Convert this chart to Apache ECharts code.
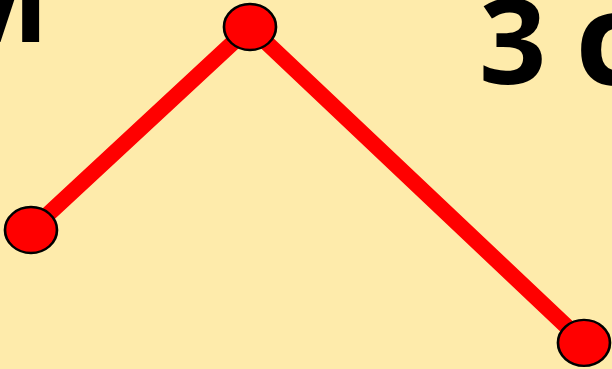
<!DOCTYPE html>
<html>
<head>
<meta charset="utf-8">
<script src="https://cdn.jsdelivr.net/npm/echarts@6/dist/echarts.min.js"></script>
<style>
  html, body { margin: 0; padding: 0; background: #feebab; }
  #chart { width: 612px; height: 369px; }
</style>
</head>
<body>
<div id="chart"></div>
<script>
var xValues = [0, 2, 5.05];
var yValues = [2.9, 4.7, 1.9];
var leftLabel = 'M';
var rightLabel = '3 c';

var rightParts = rightLabel.split(' ');

var chart = echarts.init(document.querySelector('#chart'), null, { renderer: 'canvas' });
var option;
option = {
    backgroundColor: '#feebab',
    animation: false,
    grid: {
        top: 0,
        left: 0,
        right: 0,
        bottom: 0
    },
    xAxis: {
        type: 'value',
        min: -0.283,
        max: 5.306,
        show: false
    },
    yAxis: {
        type: 'value',
        min: 1.668,
        max: 4.939,
        show: false
    },
    graphic: [
        {
            type: 'text',
            style: {
                text: leftLabel,
                x: 50,
                y: 8,
                align: 'right',
                verticalAlign: 'middle',
                font: 'bold 120px "Noto Sans"',
                fill: '#000'
            }
        },
        {
            type: 'text',
            style: {
                text: rightParts[0],
                x: 479,
                y: 50,
                align: 'left',
                verticalAlign: 'middle',
                font: 'bold 118px "Noto Sans"',
                fill: '#000'
            }
        },
        {
            type: 'text',
            style: {
                text: rightParts[1],
                x: 575,
                y: 48,
                align: 'left',
                verticalAlign: 'middle',
                font: 'bold 130px "Noto Sans"',
                fill: '#000'
            }
        }
    ],
    series: [
        {
            type: 'line',
            data: xValues.map(function (x, i) { return [x, yValues[i]]; }),
            symbol: 'circle',
            symbolSize: [52, 46],
            lineStyle: { color: '#ff0000', width: 16 },
            itemStyle: { color: '#ff0000', borderColor: '#000', borderWidth: 2.5 },
            z: 3
        }
    ]
};

if (option && typeof option === 'object') {
    chart.setOption(option);
}

window.addEventListener('resize', function () {
    chart.resize();
})
</script>
</body>
</html>
